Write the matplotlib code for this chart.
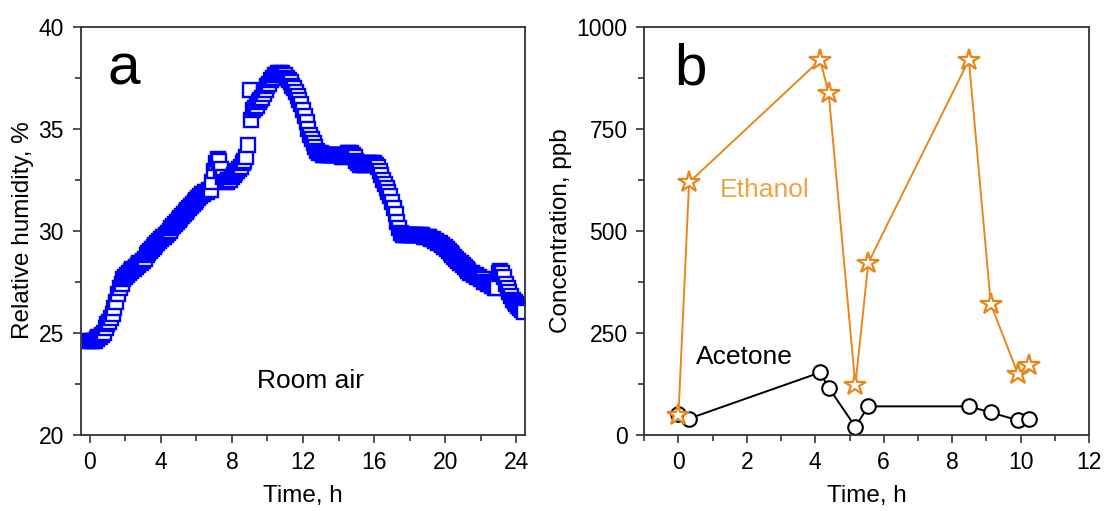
import matplotlib.pyplot as plt
import numpy as np
from matplotlib.ticker import MultipleLocator

plt.rcParams["font.family"] = ["Liberation Sans", "DejaVu Sans"]

# panel a: room air humidity, one reading every 0.1 h
time_rh = np.round(np.arange(0, 24.45, 0.1), 2)
rh = [
    24.6, 24.6, 24.6, 24.6, 24.7, 24.8, 24.8, 24.9, 25.0, 25.2,
    25.4, 25.5, 25.7, 25.9, 26.2, 26.5, 26.9, 27.2, 27.4, 27.6,
    27.7, 27.8, 27.9, 28.0, 28.1, 28.1, 28.2, 28.3, 28.4, 28.4,
    28.5, 28.6, 28.8, 28.9, 29.0, 29.1, 29.2, 29.3, 29.4, 29.5,
    29.6, 29.7, 29.7, 29.8, 29.9, 30.0, 30.1, 30.2, 30.3, 30.4,
    30.5, 30.6, 30.7, 30.8, 30.9, 31.0, 31.1, 31.2, 31.3, 31.4,
    31.5, 31.6, 31.7, 31.8, 31.8, 31.9, 31.9, 32.0, 32.0, 32.4,
    32.9, 33.3, 33.5, 33.4, 33.0, 32.6, 32.4, 32.4, 32.5, 32.5,
    32.6, 32.7, 32.8, 32.9, 33.0, 33.1, 33.3, 33.4, 33.6, 34.2,
    36.9, 35.4, 35.9, 36.0, 36.1, 36.3, 36.4, 36.5, 36.7, 36.9,
    37.1, 37.2, 37.4, 37.5, 37.6, 37.6, 37.7, 37.7, 37.7, 37.6,
    37.6, 37.5, 37.4, 37.3, 37.1, 37.0, 36.8, 36.6, 36.4, 36.2,
    35.9, 35.6, 35.3, 35.0, 34.7, 34.5, 34.3, 34.1, 33.9, 33.8,
    33.8, 33.7, 33.7, 33.7, 33.7, 33.7, 33.7, 33.7, 33.7, 33.7,
    33.7, 33.7, 33.6, 33.6, 33.7, 33.8, 33.8, 33.8, 33.7, 33.6,
    33.4, 33.3, 33.2, 33.2, 33.2, 33.2, 33.3, 33.3, 33.3, 33.3,
    33.3, 33.2, 33.1, 32.9, 32.7, 32.5, 32.3, 32.1, 31.9, 31.7,
    31.4, 31.1, 30.8, 30.4, 30.1, 29.9, 29.8, 29.8, 29.8, 29.8,
    29.8, 29.8, 29.8, 29.8, 29.8, 29.8, 29.8, 29.8, 29.7, 29.7,
    29.7, 29.7, 29.6, 29.6, 29.5, 29.5, 29.4, 29.4, 29.3, 29.2,
    29.2, 29.1, 29.0, 28.9, 28.8, 28.7, 28.6, 28.5, 28.4, 28.4,
    28.3, 28.2, 28.1, 28.0, 27.9, 27.9, 27.8, 27.8, 27.7, 27.7,
    27.6, 27.6, 27.5, 27.5, 27.4, 27.4, 27.3, 27.3, 27.2, 27.2,
    27.9, 28.0, 27.9, 27.7, 27.4, 27.2, 27.0, 26.8, 26.6, 26.5,
    26.4, 26.3, 26.2, 26.1, 26.0,
]

# panel b: breath samples
time_b = [0, 0.31, 4.14, 4.39, 5.17, 5.55, 8.49, 9.13, 9.92, 10.24]
ethanol = [49, 618, 918, 837, 121, 421, 918, 320, 149, 171]
acetone = [50, 39, 152, 115, 19, 69, 69, 54, 35, 39]

blue = "#0000ff"
orange = "#e8861c"
spine_col = "#333333"

fig = plt.figure(figsize=(11.07, 5.11), dpi=100)
axA = fig.add_axes([0.0729, 0.1497, 0.4017, 0.7984])
axB = fig.add_axes([0.582, 0.1497, 0.4017, 0.7984])

axA.plot(time_rh, rh, linestyle="none", marker="s", markersize=10.5,
         markerfacecolor="white", markeredgecolor=blue, markeredgewidth=1.7)
axA.set_xlim(-0.5, 24.5)
axA.set_ylim(20, 40)
axA.xaxis.set_major_locator(MultipleLocator(4))
axA.xaxis.set_minor_locator(MultipleLocator(2))
axA.yaxis.set_major_locator(MultipleLocator(5))
axA.yaxis.set_minor_locator(MultipleLocator(2.5))
axA.set_xlabel("Time, h", fontsize=17.5, labelpad=8)
axA.set_ylabel("Relative humidity, %", fontsize=17.5, labelpad=3)
axA.text(0.061, 0.857, "a", transform=axA.transAxes, fontsize=42, ha="left", va="baseline")
axA.text(12.4, 22.6, "Room air", fontsize=19, ha="center", va="center")

axB.plot(time_b, acetone, color="black", linewidth=1.4, marker="o", markersize=10.5,
         markerfacecolor="white", markeredgecolor="black", markeredgewidth=1.5)
axB.plot(time_b, ethanol, color=orange, linewidth=1.4, marker="*", markersize=16,
         markerfacecolor="white", markeredgecolor=orange, markeredgewidth=1.6)
axB.set_xlim(-1, 12)
axB.set_ylim(0, 1000)
axB.xaxis.set_major_locator(MultipleLocator(2))
axB.xaxis.set_minor_locator(MultipleLocator(1))
axB.yaxis.set_major_locator(MultipleLocator(250))
axB.yaxis.set_minor_locator(MultipleLocator(125))
axB.set_xlabel("Time, h", fontsize=17.5, labelpad=8)
axB.set_ylabel("Concentration, ppb", fontsize=17.5, labelpad=3)
axB.text(0.067, 0.857, "b", transform=axB.transAxes, fontsize=42, ha="left", va="baseline")
axB.text(1.2, 600, "Ethanol", fontsize=19, color="#eca444", ha="left", va="center")
axB.text(0.5, 189, "Acetone", fontsize=19, color="black", ha="left", va="center")

for ax in (axA, axB):
    for s in ax.spines.values():
        s.set_color(spine_col)
        s.set_linewidth(1.3)
    ax.tick_params(which="both", direction="out", top=False, right=False,
                   colors=spine_col, labelcolor="black", width=1.2)
    ax.tick_params(which="major", length=6, labelsize=16.5, pad=6)
    ax.tick_params(which="minor", length=4)

fig.savefig("out.png", dpi=100)
